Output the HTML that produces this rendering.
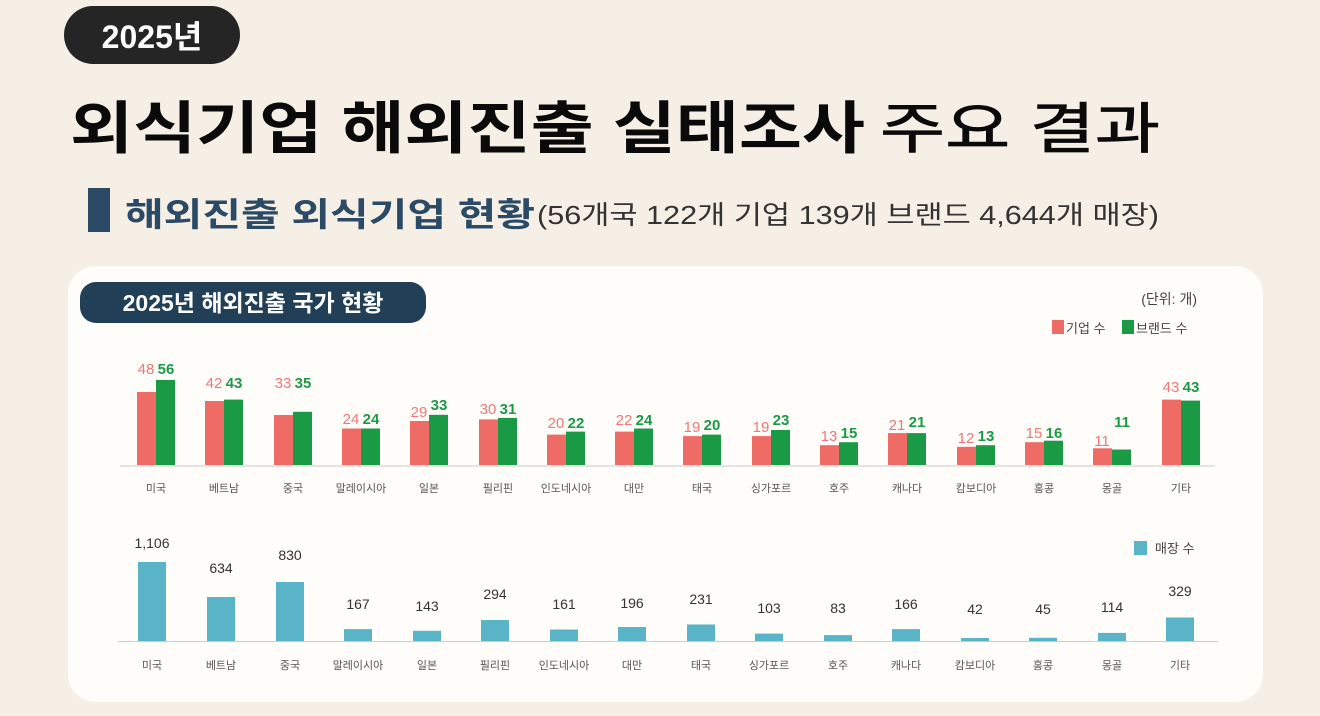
<!DOCTYPE html>
<html><head><meta charset="utf-8"><style>
html,body{margin:0;padding:0;width:1320px;height:716px;overflow:hidden;background:#f6efe6;}
svg{display:block;font-family:"Liberation Sans","Noto Sans CJK KR",sans-serif;}
</style></head><body>
<svg width="1320" height="716" viewBox="0 0 1320 716" xmlns="http://www.w3.org/2000/svg">
<rect width="1320" height="716" fill="#f6efe6"/>
<rect x="64" y="6" width="176" height="58" rx="29" fill="#252525"/>
<text x="152" y="48" font-size="32" font-weight="bold" fill="#fff" text-anchor="middle">2025년</text>
<text x="70" y="148" font-size="57" font-weight="bold" fill="#0a0a0a" textLength="795" lengthAdjust="spacingAndGlyphs">외식기업 해외진출 실태조사</text>
<text x="880" y="148" font-size="55" font-weight="normal" fill="#0a0a0a" textLength="280" lengthAdjust="spacingAndGlyphs" stroke="#0a0a0a" stroke-width="0.8">주요 결과</text>
<rect x="88" y="188" width="22" height="44" fill="#2b4a66"/>
<text x="125" y="226" font-size="33" font-weight="bold" fill="#2b4a66" textLength="410" lengthAdjust="spacingAndGlyphs">해외진출 외식기업 현황</text>
<text x="537" y="224" font-size="26" fill="#333" textLength="622" lengthAdjust="spacingAndGlyphs">(56개국 122개 기업 139개 브랜드 4,644개 매장)</text>
<rect x="68" y="266" width="1195" height="436" rx="28" fill="#fffdfa"/>
<rect x="80" y="282" width="346" height="41" rx="16" fill="#223f58"/>
<text x="253" y="311" font-size="23" font-weight="bold" fill="#fff" text-anchor="middle">2025년 해외진출 국가 현황</text>
<text x="1197" y="304" font-size="14" fill="#444" text-anchor="end">(단위: 개)</text>
<rect x="1052" y="320" width="12" height="14" fill="#ef6b66"/>
<text x="1066" y="333" font-size="13" fill="#444">기업 수</text>
<rect x="1122" y="320" width="12" height="14" fill="#1b9a46"/>
<text x="1136" y="333" font-size="13" fill="#444">브랜드 수</text>
<line x1="120" y1="466" x2="1215" y2="466" stroke="#ccc" stroke-width="1"/>
<g fill="#ef6b66">
<rect x="137" y="392" width="19" height="73"/><rect x="205" y="401" width="19" height="64"/><rect x="274" y="415" width="19" height="50"/><rect x="342" y="428.5" width="19" height="36.5"/><rect x="410" y="421" width="19" height="44"/><rect x="479" y="419.4" width="19" height="45.6"/><rect x="547" y="434.6" width="19" height="30.4"/><rect x="615" y="431.6" width="19" height="33.4"/><rect x="683" y="436.1" width="19" height="28.9"/><rect x="752" y="436.1" width="19" height="28.9"/><rect x="820" y="445.2" width="19" height="19.8"/><rect x="888" y="433.1" width="19" height="31.9"/><rect x="957" y="446.8" width="19" height="18.2"/><rect x="1025" y="442.2" width="19" height="22.8"/><rect x="1093" y="448.3" width="19" height="16.7"/><rect x="1162" y="399.6" width="19" height="65.4"/>
</g>
<g fill="#1b9a46">
<rect x="156" y="379.9" width="19" height="85.1"/><rect x="224" y="399.6" width="19" height="65.4"/><rect x="293" y="411.8" width="19" height="53.2"/><rect x="361" y="428.5" width="19" height="36.5"/><rect x="429" y="414.8" width="19" height="50.2"/><rect x="498" y="417.9" width="19" height="47.1"/><rect x="566" y="431.6" width="19" height="33.4"/><rect x="634" y="428.5" width="19" height="36.5"/><rect x="702" y="434.6" width="19" height="30.4"/><rect x="771" y="430" width="19" height="35"/><rect x="839" y="442.2" width="19" height="22.8"/><rect x="907" y="433.1" width="19" height="31.9"/><rect x="976" y="445.2" width="19" height="19.8"/><rect x="1044" y="440.7" width="19" height="24.3"/><rect x="1112" y="449.5" width="19" height="15.5"/><rect x="1181" y="400.6" width="19" height="64.4"/>
</g>
<g font-size="15" fill="#ee7777" text-anchor="middle">
<text x="146" y="374">48</text><text x="214" y="388">42</text><text x="283" y="388">33</text><text x="351" y="424">24</text><text x="419" y="417">29</text><text x="488" y="414">30</text><text x="556" y="428">20</text><text x="624" y="425">22</text><text x="692" y="432">19</text><text x="761" y="432">19</text><text x="829" y="441">13</text><text x="897" y="430">21</text><text x="966" y="443">12</text><text x="1034" y="438">15</text><text x="1102" y="446">11</text><text x="1171" y="392">43</text>
</g>
<g font-size="15" fill="#1b9a46" font-weight="bold" text-anchor="middle">
<text x="166" y="374">56</text><text x="234" y="388">43</text><text x="303" y="388">35</text><text x="371" y="424">24</text><text x="439" y="410">33</text><text x="508" y="414">31</text><text x="576" y="428">22</text><text x="644" y="425">24</text><text x="712" y="430">20</text><text x="781" y="425">23</text><text x="849" y="438">15</text><text x="917" y="427">21</text><text x="986" y="441">13</text><text x="1054" y="438">16</text><text x="1122" y="427">11</text><text x="1191" y="392">43</text>
</g>
<g font-size="11" fill="#555" text-anchor="middle">
<text x="156" y="492">미국</text><text x="224" y="492">베트남</text><text x="293" y="492">중국</text><text x="361" y="492">말레이시아</text><text x="429" y="492">일본</text><text x="498" y="492">필리핀</text><text x="566" y="492">인도네시아</text><text x="634" y="492">대만</text><text x="702" y="492">태국</text><text x="771" y="492">싱가포르</text><text x="839" y="492">호주</text><text x="907" y="492">캐나다</text><text x="976" y="492">캄보디아</text><text x="1044" y="492">홍콩</text><text x="1112" y="492">몽골</text><text x="1181" y="492">기타</text>
</g>
<rect x="1134" y="541" width="13" height="14" fill="#5ab4c8"/>
<text x="1155" y="553" font-size="13" fill="#444">매장 수</text>
<line x1="118" y1="641.5" x2="1218" y2="641.5" stroke="#ccc" stroke-width="1"/>
<g fill="#5ab4c8">
<rect x="138" y="562" width="28" height="79"/><rect x="207" y="597" width="28" height="44"/><rect x="276" y="582" width="28" height="59"/><rect x="344" y="629.1" width="28" height="11.9"/><rect x="413" y="630.8" width="28" height="10.2"/><rect x="481" y="620" width="28" height="21"/><rect x="550" y="629.5" width="28" height="11.5"/><rect x="618" y="627" width="28" height="14"/><rect x="687" y="624.5" width="28" height="16.5"/><rect x="755" y="633.6" width="28" height="7.4"/><rect x="824" y="635.1" width="28" height="5.9"/><rect x="892" y="629.1" width="28" height="11.9"/><rect x="961" y="638" width="28" height="3"/><rect x="1029" y="637.8" width="28" height="3.2"/><rect x="1098" y="632.9" width="28" height="8.1"/><rect x="1166" y="617.5" width="28" height="23.5"/>
</g>
<g font-size="14" fill="#333" text-anchor="middle">
<text x="152" y="548">1,106</text><text x="221" y="573">634</text><text x="290" y="560">830</text><text x="358" y="609">167</text><text x="427" y="611">143</text><text x="495" y="599">294</text><text x="564" y="609">161</text><text x="632" y="608">196</text><text x="701" y="604">231</text><text x="769" y="613">103</text><text x="838" y="613">83</text><text x="906" y="609">166</text><text x="975" y="614">42</text><text x="1043" y="614">45</text><text x="1112" y="612">114</text><text x="1180" y="596">329</text>
</g>
<g font-size="11" fill="#555" text-anchor="middle">
<text x="152" y="669">미국</text><text x="221" y="669">베트남</text><text x="290" y="669">중국</text><text x="358" y="669">말레이시아</text><text x="427" y="669">일본</text><text x="495" y="669">필리핀</text><text x="564" y="669">인도네시아</text><text x="632" y="669">대만</text><text x="701" y="669">태국</text><text x="769" y="669">싱가포르</text><text x="838" y="669">호주</text><text x="906" y="669">캐나다</text><text x="975" y="669">캄보디아</text><text x="1043" y="669">홍콩</text><text x="1112" y="669">몽골</text><text x="1180" y="669">기타</text>
</g>
</svg>
</body></html>
